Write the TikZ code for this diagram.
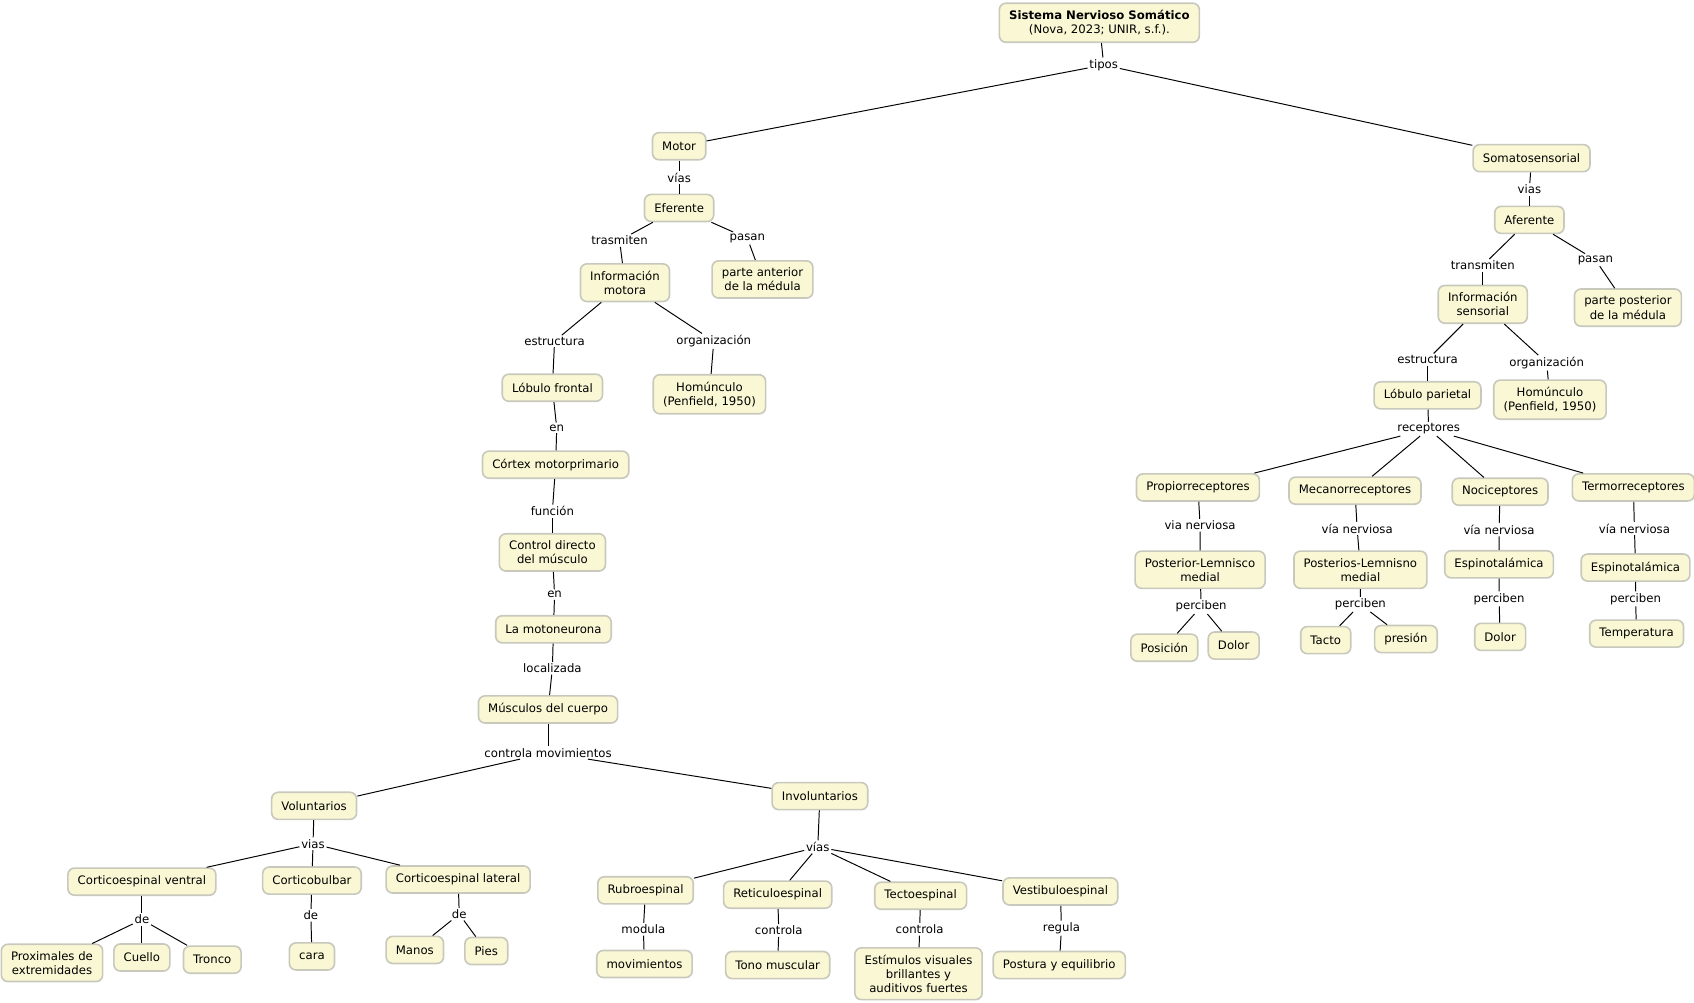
\documentclass[tikz,border=0pt]{standalone}
\usepackage{fontspec}
\setmainfont{DejaVu Sans}
\definecolor{cmapfill}{RGB}{250,248,212}
\definecolor{cmapline}{RGB}{200,200,188}

\tikzset{
every node/.style={font=\fontsize{10.8}{13}\selectfont},
style1/.style= {rectangle, rounded corners=6pt, draw=cmapline, line width=1.5pt, fill=cmapfill, align=center, inner xsep=9pt, inner ysep=6.5pt, minimum height=25pt},
style2/.style= {rectangle, inner sep=1.5pt, fill=white, align=center},
style3/.style= {draw=black, line width=0.9pt}
}

\begin{document}
\begin{tikzpicture}[x=1pt,y=-1pt]
\useasboundingbox (0,0) rectangle (1564,926);

% the root and the two types
\node[style1] (c0) at (1015,21) {{\bfseries Sistema Nervioso Somático}\\(Nova, 2023; UNIR, s.f.).};
\node[style2] (k0) at (1019,60) {tipos};
\node[style1] (m1) at (627,135) {Motor};
\node[style1] (s1) at (1414,146) {Somatosensorial};

% motor branch
\node[style2] (lm1) at (627,164) {vías};
\node[style1] (m2) at (627,192) {Eferente};
\node[style2] (lm2) at (572,222) {trasmiten};
\node[style2] (lm3) at (690,220) {pasan};
\node[style1] (m3) at (577,261) {Información\\motora};
\node[style1] (m4) at (704,258) {parte anterior\\de la médula};
\node[style2] (lm4) at (512,315) {estructura};
\node[style2] (lm5) at (659,315) {organización};
\node[style1] (m5) at (510,358) {Lóbulo frontal};
\node[style1] (m6) at (655,364) {Homúnculo\\(Penfield, 1950)};
\node[style2] (lm6) at (514,395) {en};
\node[style1] (m7) at (513,429) {Córtex motorprimario};
\node[style2] (lm7) at (510,472) {función};
\node[style1] (m8) at (510,510) {Control directo\\del músculo};
\node[style2] (lm8) at (512,549) {en};
\node[style1] (m9) at (511,581) {La motoneurona};
\node[style2] (lm9) at (510,617) {localizada};
\node[style1] (m10) at (506,655) {Músculos del cuerpo};
\node[style2] (lm10) at (506,695) {controla movimientos};

% voluntary movements
\node[style1] (v0) at (290,744) {Voluntarios};
\node[style2] (lv0) at (289,779) {vias};
\node[style1] (v1) at (131,814) {Corticoespinal ventral};
\node[style1] (v2) at (288,813) {Corticobulbar};
\node[style1] (v3) at (423,812) {Corticoespinal lateral};
\node[style2] (lv1) at (131,849) {de};
\node[style2] (lv2) at (287,845) {de};
\node[style2] (lv3) at (424,844) {de};
\node[style1] (v11) at (48,889) {Proximales de\\extremidades};
\node[style1] (v12) at (131,884) {Cuello};
\node[style1] (v13) at (196,886) {Tronco};
\node[style1] (v21) at (288,883) {cara};
\node[style1] (v31) at (383,877) {Manos};
\node[style1] (v32) at (449,878) {Pies};

% involuntary movements
\node[style1] (i0) at (757,735) {Involuntarios};
\node[style2] (li0) at (755,782) {vías};
\node[style1] (i1) at (596,822) {Rubroespinal};
\node[style1] (i2) at (718,826) {Reticuloespinal};
\node[style1] (i3) at (850,827) {Tectoespinal};
\node[style1] (i4) at (979,823) {Vestibuloespinal};
\node[style2] (li1) at (594,858) {modula};
\node[style2] (li2) at (719,859) {controla};
\node[style2] (li3) at (849,858) {controla};
\node[style2] (li4) at (980,857) {regula};
\node[style1] (i11) at (595,890) {movimientos};
\node[style1] (i21) at (718,891) {Tono muscular};
\node[style1] (i31) at (848,899) {Estímulos visuales\\brillantes y\\auditivos fuertes};
\node[style1] (i41) at (978,891) {Postura y equilibrio};

% somatosensory branch
\node[style2] (ls1) at (1412,175) {vias};
\node[style1] (s2) at (1412,203) {Aferente};
\node[style2] (ls2) at (1369,245) {transmiten};
\node[style2] (ls3) at (1473,240) {pasan};
\node[style1] (s3) at (1369,281) {Información\\sensorial};
\node[style1] (s4) at (1503,284) {parte posterior\\de la médula};
\node[style2] (ls4) at (1318,332) {estructura};
\node[style2] (ls5) at (1428,335) {organización};
\node[style1] (s5) at (1318,365) {Lóbulo parietal};
\node[style1] (s6) at (1431,369) {Homúnculo\\(Penfield, 1950)};
\node[style2] (ls6) at (1319,396) {receptores};

% receptors
\node[style1] (r1) at (1106,450) {Propiorreceptores};
\node[style1] (r2) at (1251,453) {Mecanorreceptores};
\node[style1] (r3) at (1385,454) {Nociceptores};
\node[style1] (r4) at (1508,450) {Termorreceptores};
\node[style2] (lr1) at (1108,485) {via nerviosa};
\node[style2] (lr2) at (1253,488) {vía nerviosa};
\node[style2] (lr3) at (1384,489) {vía nerviosa};
\node[style2] (lr4) at (1509,488) {vía nerviosa};
\node[style1] (r11) at (1108,526) {Posterior-Lemnisco\\medial};
\node[style1] (r21) at (1256,526) {Posterios-Lemnisno\\medial};
\node[style1] (r31) at (1384,521) {Espinotalámica};
\node[style1] (r41) at (1510,524) {Espinotalámica};
\node[style2] (p1) at (1109,560) {perciben};
\node[style2] (p2) at (1256,558) {perciben};
\node[style2] (p3) at (1384,553) {perciben};
\node[style2] (p4) at (1510,553) {perciben};
\node[style1] (r111) at (1075,598) {Posición};
\node[style1] (r112) at (1139,596) {Dolor};
\node[style1] (r211) at (1224,591) {Tacto};
\node[style1] (r212) at (1298,590) {presión};
\node[style1] (r311) at (1385,588) {Dolor};
\node[style1] (r411) at (1511,585) {Temperatura};

% lines between concepts and their linking words
\foreach \a/\b in {c0/k0, k0/m1, k0/s1,
  m1/lm1, lm1/m2, m2/lm2, lm2/m3, m2/lm3, lm3/m4,
  m3/lm4, lm4/m5, m3/lm5, lm5/m6, m5/lm6, lm6/m7,
  m7/lm7, lm7/m8, m8/lm8, lm8/m9, m9/lm9, lm9/m10,
  m10/lm10, lm10/v0, lm10/i0}
  \draw[style3] (\a) -- (\b);

\foreach \value in {1,2,3}
  \draw[style3] (lv0) -- (v\value);
\draw[style3] (v0) -- (lv0);
\foreach \a/\b in {v1/lv1, lv1/v11, lv1/v12, lv1/v13,
  v2/lv2, lv2/v21, v3/lv3, lv3/v31, lv3/v32}
  \draw[style3] (\a) -- (\b);

\draw[style3] (i0) -- (li0);
\foreach \value in {1,...,4}
  \draw[style3] (li0) -- (i\value)
                (i\value) -- (li\value) -- (i\value1);

\foreach \a/\b in {s1/ls1, ls1/s2, s2/ls2, ls2/s3, s2/ls3, ls3/s4,
  s3/ls4, ls4/s5, s3/ls5, ls5/s6, s5/ls6}
  \draw[style3] (\a) -- (\b);

\foreach \value in {1,...,4}
  \draw[style3] (ls6) -- (r\value)
                (r\value) -- (lr\value) -- (r\value1)
                (r\value1) -- (p\value) -- (r\value11);
\draw[style3] (p1) -- (r112);
\draw[style3] (p2) -- (r212);
\end{tikzpicture}
\end{document}
